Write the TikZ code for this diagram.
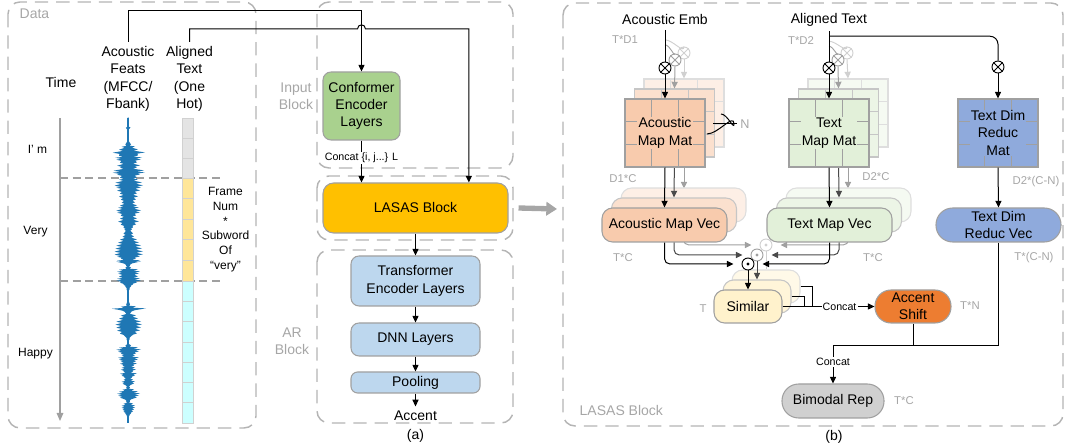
\documentclass[tikz,border=0pt]{standalone}
\usepackage{fontspec}
\setmainfont{Liberation Sans}
\usetikzlibrary{arrows.meta,calc}
\definecolor{pangray}{HTML}{B4B4B4}
\definecolor{labgray}{HTML}{A6A6A6}
\definecolor{bord}{HTML}{A0A0A0}
\definecolor{cgreen}{HTML}{A9D18E}
\definecolor{cgold}{HTML}{FFC000}
\definecolor{cblue}{HTML}{BDD7EE}
\definecolor{cpeach}{HTML}{F8CBAD}
\definecolor{cmint}{HTML}{E2F0D9}
\definecolor{cslate}{HTML}{8FAADC}
\definecolor{ccream}{HTML}{FFF2CC}
\definecolor{corange}{HTML}{ED7D31}
\definecolor{cbim}{HTML}{D0D0D0}
\definecolor{wave}{HTML}{1F77B4}
\definecolor{cellgray}{HTML}{E4E4E4}
\definecolor{cellyel}{HTML}{FFE699}
\definecolor{cellcyan}{HTML}{CCFFFF}
\definecolor{ghostA}{HTML}{A0A0A0}
\definecolor{ghostB}{HTML}{D0D0D0}
\definecolor{darkg}{HTML}{4A4A4A}
\definecolor{bigarr}{HTML}{A6A6A6}
\colorlet{cpeachB}{cpeach!60!white}
\colorlet{cpeachC}{cpeach!30!white}
\colorlet{cmintB}{cmint!65!white}
\colorlet{cmintC}{cmint!35!white}
\colorlet{ccreamB}{ccream!75!white}
\colorlet{ccreamC}{ccream!45!white}
\colorlet{bordB}{bord!60!white}
\colorlet{bordC}{bord!35!white}
\newcommand\gridlines[2]{%
 \draw[#2, line width=0.6pt]
   ($(#1.north west)!1/3!(#1.north east)$) -- ($(#1.south west)!1/3!(#1.south east)$)
   ($(#1.north west)!2/3!(#1.north east)$) -- ($(#1.south west)!2/3!(#1.south east)$)
   ($(#1.north west)!1/3!(#1.south west)$) -- ($(#1.north east)!1/3!(#1.south east)$)
   ($(#1.north west)!2/3!(#1.south west)$) -- ($(#1.north east)!2/3!(#1.south east)$);}
\newcommand\crossin[2]{\draw[#2,line width=0.7pt] (#1.north east)--(#1.south west) (#1.north west)--(#1.south east);}
\newcommand\dotin[2]{\fill[#2] (#1.center) circle (1.3pt);}
\def\wavelist{118/0.8, 126/0.8, 128/2.5, 130/0.8, 140/1, 145/3, 147/7, 150/10, 153/17, 156/10, 158/14, 160/13, 163/9, 166/12, 168/9, 171/16, 173/17, 175/12, 178/9, 180/10, 183/14, 186/15, 188/13, 191/12, 194/9, 197/10, 200/8, 203/7, 206/9, 208/11, 211/13, 213/12, 216/8, 219/9, 222/11, 225/8, 228/5, 230/4, 234/5, 237/6, 240/9, 243/11, 246/13, 249/14, 252/15, 255/15, 257/12, 259/8, 261/12, 262/13, 264/4, 266/2, 268/3, 270/10, 272/12, 274/11, 277/10, 279/12, 281/13, 283/9, 285/5, 287/3, 290/1.5, 293/1, 300/1, 305/2, 307/8, 309/18, 311/6, 313/3, 316/8, 319/10, 322/13, 325/14, 328/13, 331/12, 334/9, 337/3, 340/1.5, 343/1, 346/3, 348/10, 350/13, 352/11, 354/8, 356/7, 358/11, 360/10, 362/8, 364/9, 366/6, 368/7, 370/8, 372/5, 374/9, 376/7, 378/4, 380/5, 382/7, 384/6, 386/2, 388/2, 390/6, 392/10, 394/12, 396/11, 398/9, 400/3, 402/2, 404/5, 406/7, 408/7, 410/6, 412/5, 414/3, 416/1.5, 418/1, 422/0.5}
\tikzset{
  sz/.style 2 args={minimum width=#1*0.75pt, minimum height=#2*0.75pt},
  fnt/.style={font=\fontsize{10.5}{13}\selectfont},
  smallfnt/.style={font=\fontsize{8}{9.6}\selectfont},
  wordfnt/.style={font=\fontsize{9}{11}\selectfont},
  panel/.style={draw=pangray, line width=1.1pt, dash pattern=on 10pt off 6pt, rounded corners=9pt},
  lab/.style={text=labgray, fnt, align=center},
  dimlab/.style={text=labgray, font=\fontsize{8.5}{10}\selectfont},
  conn/.style={draw=black, line width=0.75pt},
  arrowtip/.style={-{Triangle[length=5pt,width=4.6pt]}},
  arr/.style={conn, arrowtip},
  arrB/.style={draw=darkg, line width=0.75pt, arrowtip},
  arrA/.style={draw=ghostA, line width=0.75pt, arrowtip},
  arrC/.style={draw=ghostB, line width=0.75pt, arrowtip},
  boxr/.style={draw=bord, line width=0.8pt, rounded corners=6pt, align=center, inner sep=1pt, fnt},
  matbox/.style={draw=bord, line width=0.8pt, inner sep=0pt, sz={80}{68}},
  mattext/.style={fnt, align=center, inner sep=0.6pt},
  vecbox/.style={draw=bord, line width=0.8pt, rounded corners=8pt, sz={125}{34}, fnt, align=center, inner sep=0pt},
  opnode/.style={circle, draw, line width=0.7pt, fill=white, minimum size=9pt, inner sep=0pt},
  sepline/.style={draw=bord, line width=0.8pt, dash pattern=on 6pt off 3.5pt},
  cell/.style={draw=black!18, line width=0.5pt},
}
\begin{document}
\begin{tikzpicture}[x=0.75pt,y=-0.75pt]
\useasboundingbox (0,0) rectangle (1065,448);
% ================= Data panel =================
\draw[panel] (8,2) rectangle (256,428);
\node[lab, anchor=west] (datalab) at (15,14) {Data};
\node[fnt] (timelab) at (61,83) {Time};
\node[fnt, align=center] (afeat) at (128,79) {Acoustic\\Feats\\(MFCC/\\Fbank)};
\node[fnt, align=center] (atext) at (189.5,79) {Aligned\\Text\\(One\\Hot)};
\coordinate (tstart) at (60,118);
\coordinate (tend) at (60,421);
\draw[draw=bord, line width=0.8pt, -{Triangle[length=6pt,width=5pt]}, color=bord] (tstart) -- (tend);
\node[wordfnt] (wim) at (37.5,149) {I’ m};
\node[wordfnt] (wvery) at (35.5,232) {Very};
\node[wordfnt] (whappy) at (35.5,354) {Happy};
\coordinate (s1a) at (60,178); \coordinate (s1b) at (222,178);
\coordinate (s2a) at (60,281); \coordinate (s2b) at (222,281);
\draw[sepline] (s1a) -- (s1b);
\draw[sepline] (s2a) -- (s2b);
% waveform (jagged envelope)
\fill[wave] (128,118) \foreach \y/\w in \wavelist {-- ({128+\w},{\y-0.6}) -- ({128+0.55*\w},{\y+0.7})} -- (128,422) -- cycle;
\fill[wave] (128,118) \foreach \y/\w in \wavelist {-- ({128-0.9*\w},{\y-0.3}) -- ({128-0.5*\w},{\y+0.9})} -- (128,422) -- cycle;
\draw[wave, line width=0.8pt] (128,118) -- (128,423);
% one-hot bar
\foreach \i in {0,1,2} \filldraw[cell, fill=cellgray] (182,{118+20*\i}) rectangle (193,{138+20*\i});
\foreach \i in {0,...,4} \filldraw[cell, fill=cellyel] (182,{178+20.6*\i}) rectangle (193,{198.6+20.6*\i});
\foreach \i in {0,...,6} \filldraw[cell, fill=cellcyan] (182,{281+20.3*\i}) rectangle (193,{301.3+20.3*\i});
\node[wordfnt, align=center] (fnum) at (225.5,229.5) {Frame\\Num\\*\\Subword\\Of\\“very”};
% ================= Middle (a) =================
\draw[panel] (317,2) rectangle (513,168);
\draw[panel] (317,176) rectangle (513,240);
\draw[panel] (317,250) rectangle (513,423);
\node[lab] (inlab) at (296,96) {Input\\Block};
\node[lab] (arlab) at (292,341) {AR\\Block};
\node[boxr, fill=cgreen, sz={77}{68}] (conf) at (361.5,106) {Conformer\\Encoder\\Layers};
\node[boxr, fill=cgold, sz={185}{50}, rounded corners=8pt] (lasas) at (415.5,208) {LASAS Block};
\node[boxr, fill=cblue, sz={129}{50}] (trans) at (415.5,281) {Transformer\\Encoder Layers};
\node[boxr, fill=cblue, sz={129}{33}] (dnn) at (415.5,339.5) {DNN Layers};
\node[boxr, fill=cblue, sz={129}{21}, rounded corners=5pt] (pool) at (415.5,382.5) {Pooling};
\node[fnt] (accout) at (415.5,416) {Accent};
\node[fnt] (capa) at (415.5,436) {(a)};
\coordinate (top1) at (0,11);
\coordinate (top2) at (0,29);
\draw[arr] (afeat.north) -- (afeat.north |- top1) -| (conf.north);
\draw[arr] (atext.north) -- (atext.north |- top2) -- ($(conf.north |- top2)+(-4,0)$) .. controls +(0,-5.5) and +(0,-5.5) .. ($(conf.north |- top2)+(4,0)$) -| ([xshift=40pt]lasas.north);
\draw[arr] (conf.south) -- node[smallfnt, fill=white, inner sep=1pt, pos=0.42] (cclab) {Concat \{i, j...\} L} (conf.south |- lasas.north);
\draw[arr] (lasas.south) -- (trans.north);
\draw[arr] (trans.south) -- (dnn.north);
\draw[arr] (dnn.south) -- (pool.north);
\draw[arr] (pool.south) -- (accout.north);
\coordinate (bigend) at (557,209);
\draw[draw=bigarr, line width=4pt, -{Triangle[length=8pt,width=10pt]}] ([xshift=7.5pt]lasas.east) -- (bigend);
% ================= Right panel (b) =================
\draw[panel] (563,3) rectangle (1063,426);
\node[lab, anchor=west] (lblock) at (575,410) {LASAS Block};
\node[fnt] (capb) at (834,437) {(b)};
\node[fnt] (aemb) at (665,20) {Acoustic Emb};
\node[fnt] (atxt) at (829,20) {Aligned Text};
% ---- layer 3 (back)
\node[matbox, fill=cpeachC, draw=bordC] (amat3) at (684,113) {}; \gridlines{amat3}{bordC}
\node[matbox, fill=cmintC, draw=bordC] (tmat3) at (848,113) {}; \gridlines{tmat3}{bordC}
\node[opnode, draw=ghostB] (g1b) at (684,53) {}; \crossin{g1b}{ghostB}
\node[opnode, draw=ghostB] (g2b) at (847,53) {}; \crossin{g2b}{ghostB}
\draw[ghostB, line width=0.7pt] ($(aemb.south)+(0,10)$) to[out=0,in=-90] (g1b.north);
\draw[ghostB, line width=0.7pt] ($(atxt.south)+(0,10)$) to[out=0,in=-90] (g2b.north);
\draw[arrC] (g1b.south) -- (amat3.north);
\draw[arrC] (g2b.south) -- (tmat3.north);
\draw[arrA] (amat3.south) -- ++(0,41);
\draw[arrA] (tmat3.south) -- ++(0,41);
\node[vecbox, fill=cpeachC, draw=bordC] (avec3) at (683.5,205) {};
\node[vecbox, fill=cmintC, draw=bordC] (tvec3) at (848.5,205) {};
\node[boxr, fill=ccreamC, draw=bordC, sz={68}{33}, rounded corners=8pt] (sim3) at (766,286.5) {};
\node[opnode, draw=ghostB] (d3) at (766,245) {}; \dotin{d3}{ghostB}
\draw[arrA, rounded corners=4pt, shorten >=6pt] (avec3.south) |- (d3.west);
\draw[arrA, rounded corners=4pt, shorten >=6pt] (tvec3.south) |- (d3.east);
\draw[draw=ghostB, line width=0.75pt] (d3.south) -- (sim3.north);
\coordinate (mx3) at (812,0);
\coordinate (mx2) at (804,0);
% ---- layer 2
\node[matbox, fill=cpeachB, draw=bordB] (amat2) at (674.5,123) {}; \gridlines{amat2}{bordB}
\node[matbox, fill=cmintB, draw=bordB] (tmat2) at (838.5,123) {}; \gridlines{tmat2}{bordB}
\node[opnode, draw=ghostA] (g1a) at (675,60) {}; \crossin{g1a}{ghostA}
\node[opnode, draw=ghostA] (g2a) at (838,60) {}; \crossin{g2a}{ghostA}
\draw[ghostA, line width=0.7pt] ($(aemb.south)+(0,15)$) to[out=0,in=-90] (g1a.north);
\draw[ghostA, line width=0.7pt] ($(atxt.south)+(0,15)$) to[out=0,in=-90] (g2a.north);
\draw[arrA] (g1a.south) -- (amat2.north);
\draw[arrA] (g2a.south) -- (tmat2.north);
\node[vecbox, fill=cpeachB, draw=bordB] (avec2) at (674,215) {};
\node[vecbox, fill=cmintB, draw=bordB] (tvec2) at (839,215) {};
\draw[arrB] (amat2.south) -- (avec2.north);
\draw[arrB] (tmat2.south) -- (tvec2.north);
\node[boxr, fill=ccreamB, draw=bordB, sz={68}{33}, rounded corners=8pt] (sim2) at (757,296.5) {};
\node[opnode, draw=ghostA] (d2) at (757,255) {}; \dotin{d2}{ghostA}
\draw[arrB, rounded corners=4pt, shorten >=6pt] (avec2.south) |- (d2.west);
\draw[arrB, rounded corners=4pt, shorten >=6pt] (tvec2.south) |- (d2.east);
\draw[arrB] (d2.south) -- (sim2.north);
% ---- layer 1 (front)
\node[matbox, fill=cpeach] (amat) at (665,133) {}; \gridlines{amat}{bord}
\node[mattext, fill=cpeach] (amatt) at (amat) {Acoustic\\Map Mat};
\node[matbox, fill=cmint] (tmat) at (829,133) {}; \gridlines{tmat}{bord}
\node[mattext, fill=cmint] (tmatt) at (tmat) {Text\\Map Mat};
\node[matbox, fill=cslate] (rmat) at (998,133) {}; \gridlines{rmat}{bord}
\node[mattext, fill=cslate] (rmatt) at (rmat) {Text Dim\\Reduc\\Mat};
\node[opnode] (o1) at (665,68) {}; \crossin{o1}{black}
\node[opnode] (o2) at (829,68) {}; \crossin{o2}{black}
\node[opnode] (o3) at (998,67) {}; \crossin{o3}{black}
\draw[conn] (aemb.south) -- (o1.north);
\draw[conn] (atxt.south) -- (o2.north);
\draw[conn, rounded corners=6pt] ($(atxt.south)+(0,5)$) -| (o3.north);
\draw[arr] (o1.south) -- (amat.north);
\draw[arr] (o2.south) -- (tmat.north);
\draw[arr] (o3.south) -- (rmat.north);
\node[vecbox, fill=cpeach] (avec) at (664.5,225) {Acoustic Map Vec};
\node[vecbox, fill=cmint] (tvec) at (829.5,225) {Text Map Vec};
\node[vecbox, fill=cslate, rounded corners=12.5pt] (rvec) at (998.5,225) {Text Dim\\Reduc Vec};
\draw[arr] (amat.south) -- (avec.north);
\draw[arr] (tmat.south) -- (tvec.north);
\draw[arr] (rmat.south) -- (rvec.north);
\node[boxr, fill=ccream, sz={68}{33}, rounded corners=8pt] (sim) at (748,306.5) {Similar};
\node[opnode] (d1) at (748,264) {}; \dotin{d1}{black}
\draw[arr, rounded corners=4pt, shorten >=6pt] (avec.south) |- (d1.west);
\draw[arr, rounded corners=4pt, shorten >=6pt] (tvec.south) |- (d1.east);
\draw[arr] (d1.south) -- (sim.north);
\draw[conn] (sim2.east) -| (mx2 |- sim.east);
\draw[conn] (sim3.east) -| (mx3 |- sim.east);
\node[boxr, fill=corange, sz={76}{33}, rounded corners=12pt] (acc) at (913,306.5) {Accent\\Shift};
\draw[arr] (sim.east) -- node[smallfnt, fill=white, inner sep=0.8pt, pos=0.62] (cc2) {Concat} (acc.west);
\node[boxr, fill=cbim, sz={102}{34}, rounded corners=12.5pt] (bim) at (833,401) {Bimodal Rep};
\coordinate (yb) at (0,346);
\coordinate (jn) at (acc.south |- yb);
\draw[conn] (rvec.south) |- (jn);
\draw[conn] (acc.south) -- (jn);
\draw[arr] (jn) -| node[smallfnt, fill=white, inner sep=0.8pt, pos=0.71] (cc3) {Concat} (bim.north);
% N bracket
\draw[conn] (713,124) -- (737,124);
\draw[conn] (721,114) to[out=0,in=-90] (734,124) to[out=90,in=0] (707,134);
\node[dimlab, font=\fontsize{9.5}{11}\selectfont] (nlab) at (745,124) {N};
% dimension labels
\node[dimlab] (d_td1) at (625,40) {T*D1};
\node[dimlab] (d_td2) at (801,41) {T*D2};
\node[dimlab] (d_d1c) at (623,179) {D1*C};
\node[dimlab] (d_d2c) at (876,177) {D2*C};
\node[dimlab] (d_d2cn) at (1036,182) {D2*(C-N)};
\node[dimlab] (d_tc1) at (623,258) {T*C};
\node[dimlab] (d_tc2) at (873,258) {T*C};
\node[dimlab] (d_tcn) at (1034,258) {T*(C-N)};
\node[dimlab] (d_t) at (703,309) {T};
\node[dimlab] (d_tn) at (970,306) {T*N};
\node[dimlab] (d_tc3) at (904,401) {T*C};
\end{tikzpicture}
\end{document}
